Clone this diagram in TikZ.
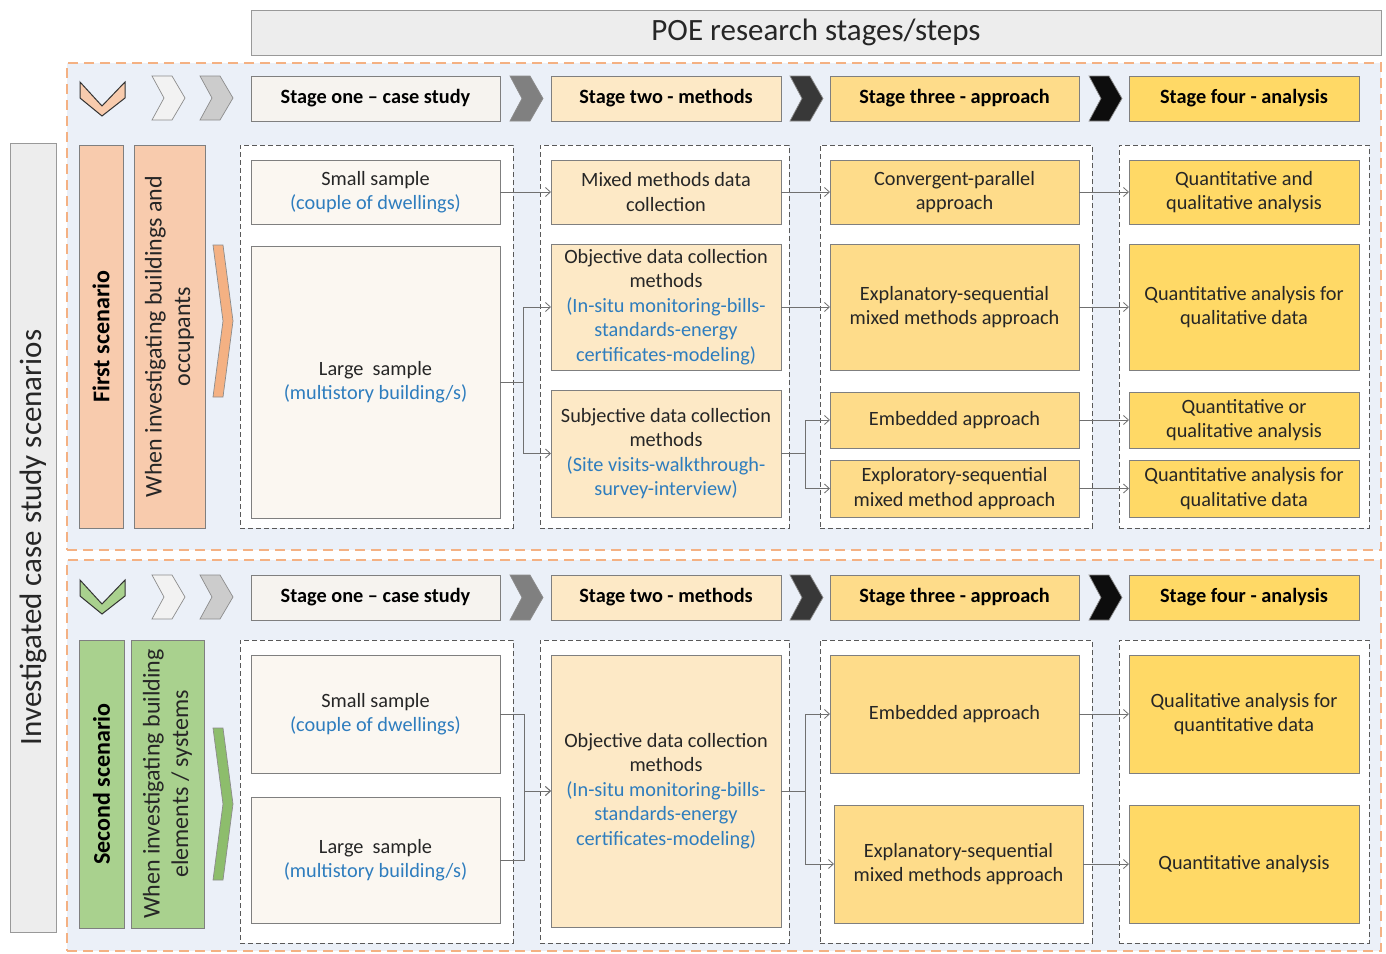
\documentclass[tikz,border=0pt]{standalone}
\usepackage{fontspec}
\setmainfont{Carlito}
\usetikzlibrary{arrows.meta}
\definecolor{boxline}{HTML}{7F7F7F}
\definecolor{grpline}{HTML}{595959}
\definecolor{panelline}{HTML}{F4B183}
\definecolor{panelfill}{HTML}{EBF0F8}
\definecolor{cA}{HTML}{FBF7F1}
\definecolor{cB}{HTML}{FDE9C6}
\definecolor{cC}{HTML}{FEDC8A}
\definecolor{cD}{HTML}{FFD966}
\definecolor{hA}{HTML}{F6F3EF}
\definecolor{pinkf}{HTML}{F8CBAD}
\definecolor{greenf}{HTML}{A9D18E}
\definecolor{orchev}{HTML}{F4B183}
\definecolor{grchev}{HTML}{70AD47}
\definecolor{bluet}{HTML}{2E7DBE}
\definecolor{txt}{HTML}{262626}
\definecolor{connc}{HTML}{707070}
\definecolor{titlef}{HTML}{EDEDED}
\newcommand\bl[1]{\textcolor{bluet}{#1}}
\newcommand\mybox[7]{\node[#6, minimum width={#4-#2}, minimum height={#5-#3}] (#1) at ({(#2+#4)/2},{(#3+#5)/2}) {#7};}
\newcommand\chevR[4]{\draw[chev, fill=#4] (#1,#2) -- ({#1+20},#2) -- ({#1+33},{(#2+#3)/2}) -- ({#1+20},#3) -- (#1,#3) -- ({#1+12},{(#2+#3)/2}) -- cycle;}
\newcommand\chevD[2]{\draw[line width=1pt, draw=black!80, fill=#2] (80,{#1}) -- (102,{#1+24}) -- (125,{#1}) -- (125,{#1+16}) -- (102,{#1+34}) -- (80,{#1+16}) -- cycle;}
\newcommand\chevT[3]{\draw[chev, fill=#3] (213,#1) -- (223,#1) -- (233,{(#1+#2)/2}) -- (223,#2) -- (213,#2) -- (223,{(#1+#2)/2}) -- cycle;}
\begin{document}
\begin{tikzpicture}[x=1pt,y=-1pt,
  box/.style={draw=boxline, line width=0.9pt, align=center, inner sep=2pt, outer sep=0pt, text=txt, font=\fontsize{20.3}{24.5}\selectfont},
  sA/.style={box, fill=cA}, sB/.style={box, fill=cB}, sC/.style={box, fill=cC}, sD/.style={box, fill=cD},
  hdr/.style={box, font=\fontsize{20.3}{24}\selectfont\bfseries, text=black},
  grp/.style={draw=grpline, dash pattern=on 5pt off 3pt, line width=0.9pt, fill=white, inner sep=0pt, outer sep=0pt},
  panel/.style={draw=panelline, dash pattern=on 10pt off 6pt, line width=1.1pt, fill=panelfill, inner sep=0pt},
  conn/.style={draw=connc, line width=0.8pt, -{Straight Barb[length=5pt,width=9pt]}},
  chev/.style={draw=black!45, line width=0.7pt},
  sidebox/.style={draw=boxline, line width=0.9pt, inner sep=0pt, outer sep=0pt},
  rot/.style={rotate=90, align=center, text=txt, font=\fontsize{24}{28.5}\selectfont}
]
\useasboundingbox (0,0) rectangle (1386,953);
% title and left label
\mybox{title}{251}{10}{1381}{55}{box, fill=titlef, draw=black!40, font=\fontsize{31}{34}\selectfont}{POE research stages/steps}
\mybox{side}{10}{143}{56}{932}{sidebox, fill=titlef, draw=black!40}{}
\node[rot, font=\fontsize{31}{34}\selectfont] (sidet) at (side) {Investigated case study scenarios};
% panels
\mybox{panA}{67}{63}{1381}{550}{panel}{}
\mybox{panB}{67}{560}{1381}{951}{panel}{}

% ===== upper scenario =====
\chevD{82}{pinkf}
\chevR{152}{76}{120}{black!5}
\chevR{200}{76}{120}{black!20}
\mybox{h1a}{251}{76}{500}{121}{hdr, fill=hA}{Stage one -- case study}
\chevR{510}{76}{121}{black!50}
\mybox{h1b}{551}{76}{781}{121}{hdr, fill=cB}{Stage two - methods}
\chevR{790}{76}{121}{black!78}
\mybox{h1c}{830}{76}{1079}{121}{hdr, fill=cC}{Stage three - approach}
\chevR{1089}{76}{121}{black!95}
\mybox{h1d}{1129}{76}{1359}{121}{hdr, fill=cD}{Stage four - analysis}

\mybox{sc1}{79}{145}{123}{528}{sidebox, fill=pinkf}{}
\node[rot, font=\fontsize{24}{28.5}\selectfont\bfseries, text=black] at (sc1) {First scenario};
\mybox{wh1}{134}{145}{205}{528}{sidebox, fill=pinkf}{}
\node[rot] at (wh1) {When investigating buildings and\\occupants};
\chevT{245}{397}{orchev}

\mybox{g1a}{240}{145}{513}{528}{grp}{}
\mybox{g1b}{540}{145}{789}{528}{grp}{}
\mybox{g1c}{820}{145}{1092}{528}{grp}{}
\mybox{g1d}{1119}{145}{1369}{528}{grp}{}

\mybox{s1small}{251}{160}{500}{224}{sA}{Small sample\\\bl{(couple of dwellings)}}
\mybox{s1large}{251}{246}{500}{518}{sA}{Large\ \ sample\\\bl{(multistory building/s)}}
\mybox{m1mix}{551}{160}{781}{224}{sB}{Mixed methods data\\collection}
\mybox{m1obj}{551}{244}{781}{370}{sB}{Objective data collection\\methods\\\bl{(In-situ monitoring-bills-}\\\bl{standards-energy}\\\bl{certificates-modeling)}}
\mybox{m1subj}{551}{390}{781}{517}{sB}{Subjective data collection\\methods\\\bl{(Site visits-walkthrough-}\\\bl{survey-interview)}}
\mybox{a1conv}{830}{160}{1079}{224}{sC}{Convergent-parallel\\approach}
\mybox{a1expl}{830}{244}{1079}{370}{sC}{Explanatory-sequential\\mixed methods approach}
\mybox{a1emb}{830}{392}{1079}{448}{sC}{Embedded approach}
\mybox{a1exp}{830}{460}{1079}{517}{sC}{Exploratory-sequential\\mixed method approach}
\mybox{q1and}{1129}{160}{1359}{224}{sD}{Quantitative and\\qualitative analysis}
\mybox{q1for}{1129}{244}{1359}{370}{sD}{Quantitative analysis for\\qualitative data}
\mybox{q1or}{1129}{392}{1359}{448}{sD}{Quantitative or\\qualitative analysis}
\mybox{q1for2}{1129}{460}{1359}{517}{sD}{Quantitative analysis for\\qualitative data}

\draw[conn] (s1small.east) -- (m1mix.west);
\draw[conn] (s1large.east) -- ++(23,0) |- (m1obj.west);
\draw[conn] (s1large.east) -- ++(23,0) |- (m1subj.west);
\draw[conn] (m1mix.east) -- (a1conv.west);
\draw[conn] (m1obj.east) -- (a1expl.west);
\draw[conn] (m1subj.east) -- ++(24,0) |- (a1emb.west);
\draw[conn] (m1subj.east) -- ++(24,0) |- (a1exp.west);
\draw[conn] (a1conv.east) -- (q1and.west);
\draw[conn] (a1expl.east) -- (q1for.west);
\draw[conn] (a1emb.east) -- (q1or.west);
\draw[conn] (a1exp.east) -- (q1for2.west);

% ===== lower scenario =====
\chevD{580}{greenf}
\chevR{152}{575}{619}{black!5}
\chevR{200}{575}{619}{black!20}
\mybox{h2a}{251}{575}{500}{620}{hdr, fill=hA}{Stage one -- case study}
\chevR{510}{575}{620}{black!50}
\mybox{h2b}{551}{575}{781}{620}{hdr, fill=cB}{Stage two - methods}
\chevR{790}{575}{620}{black!78}
\mybox{h2c}{830}{575}{1079}{620}{hdr, fill=cC}{Stage three - approach}
\chevR{1089}{575}{620}{black!95}
\mybox{h2d}{1129}{575}{1359}{620}{hdr, fill=cD}{Stage four - analysis}

\mybox{sc2}{79}{640}{124}{928}{sidebox, fill=greenf}{}
\node[rot, font=\fontsize{24}{28.5}\selectfont\bfseries, text=black] at (sc2) {Second scenario};
\mybox{wh2}{131}{640}{204}{928}{sidebox, fill=greenf}{}
\node[rot] at (wh2) {When investigating building\\elements / systems};
\chevT{728}{880}{grchev!80}

\mybox{g2a}{240}{640}{513}{943}{grp}{}
\mybox{g2b}{540}{640}{789}{943}{grp}{}
\mybox{g2c}{820}{640}{1092}{943}{grp}{}
\mybox{g2d}{1119}{640}{1369}{943}{grp}{}

\mybox{s2small}{251}{655}{500}{773}{sA}{Small sample\\\bl{(couple of dwellings)}}
\mybox{s2large}{251}{797}{500}{923}{sA}{Large\ \ sample\\\bl{(multistory building/s)}}
\mybox{m2obj}{551}{655}{781}{927}{sB}{Objective data collection\\methods\\\bl{(In-situ monitoring-bills-}\\\bl{standards-energy}\\\bl{certificates-modeling)}}
\mybox{a2emb}{830}{655}{1079}{773}{sC}{Embedded approach}
\mybox{a2exp}{834}{805}{1083}{923}{sC}{Explanatory-sequential\\mixed methods approach}
\mybox{q2qual}{1129}{655}{1359}{773}{sD}{Qualitative analysis for\\quantitative data}
\mybox{q2quant}{1129}{805}{1359}{923}{sD}{Quantitative analysis}

\draw[conn] (s2small.east) -- ++(24,0) |- (m2obj.west);
\draw[conn] (s2large.east) -- ++(24,0) |- (m2obj.west);
\draw[conn] (m2obj.east) -- ++(24,0) |- (a2emb.west);
\draw[conn] (m2obj.east) -- ++(24,0) |- (a2exp.west);
\draw[conn] (a2emb.east) -- (q2qual.west);
\draw[conn] (a2exp.east) -- (q2quant.west);
\end{tikzpicture}
\end{document}
